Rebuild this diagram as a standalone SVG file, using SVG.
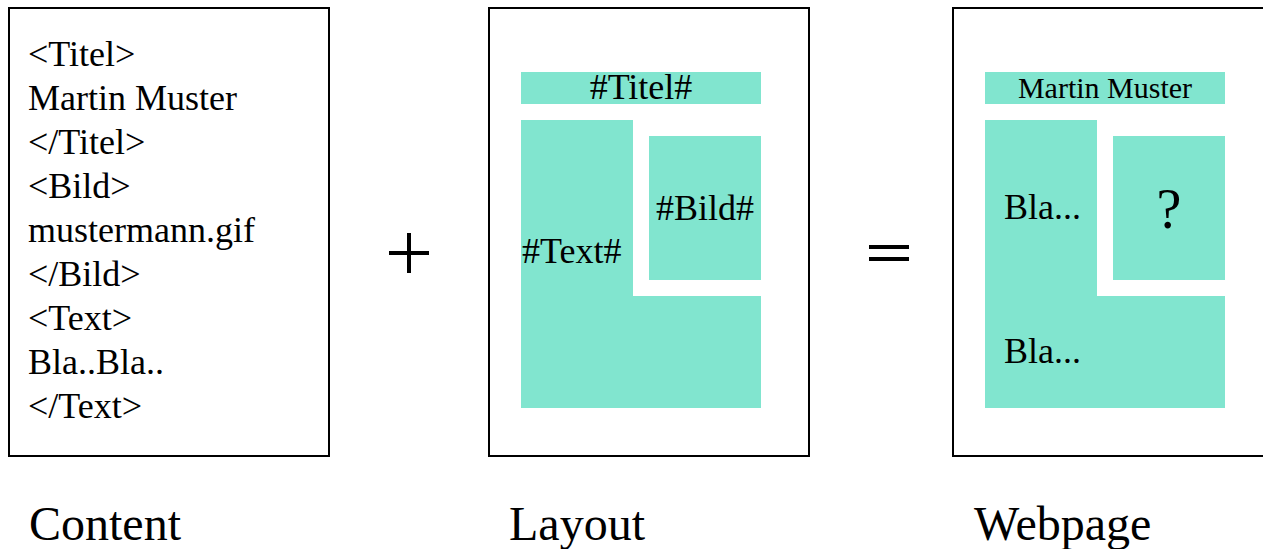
<svg xmlns="http://www.w3.org/2000/svg" width="1263" height="549" viewBox="0 0 1263 549">
<style>
.frame{fill:#fff;stroke:#000;stroke-width:2}
.area{fill:#81E5CF}
.t{font-family:"Liberation Serif","Times New Roman",serif;font-size:36px;fill:#000}
.lbl{font-family:"Liberation Serif","Times New Roman",serif;font-size:48px;fill:#000}
.op{stroke:#000;stroke-width:4}
</style>
<rect width="1263" height="549" fill="#fff"/>
<g id="content">
<rect class="frame" x="9" y="8" width="320" height="448"/>
<text class="t" x="28" y="66">&lt;Titel&gt;</text>
<text class="t" x="28" y="110">Martin Muster</text>
<text class="t" x="28" y="154">&lt;/Titel&gt;</text>
<text class="t" x="28" y="198">&lt;Bild&gt;</text>
<text class="t" x="28" y="242">mustermann.gif</text>
<text class="t" x="28" y="286">&lt;/Bild&gt;</text>
<text class="t" x="28" y="330">&lt;Text&gt;</text>
<text class="t" x="28" y="374">Bla..Bla..</text>
<text class="t" x="28" y="418">&lt;/Text&gt;</text>
</g>
<g id="plus">
<line class="op" x1="389" y1="253" x2="429" y2="253"/>
<line class="op" x1="409" y1="233" x2="409" y2="273"/>
</g>
<g id="layout">
<rect class="frame" x="489" y="8" width="320" height="448"/>
<rect class="area" x="521" y="72" width="240" height="32"/>
<path class="area" d="M521 120H633V296H761V408H521Z"/>
<rect class="area" x="649" y="136" width="112" height="144"/>
<text class="t" x="641" y="99" text-anchor="middle">#Titel#</text>
<text class="t" x="522" y="263">#Text#</text>
<text class="t" x="705" y="220" text-anchor="middle">#Bild#</text>
</g>
<g id="equals">
<line class="op" x1="869" y1="247" x2="909" y2="247"/>
<line class="op" x1="869" y1="259" x2="909" y2="259"/>
</g>
<g id="webpage">
<rect class="frame" x="953" y="8" width="320" height="448"/>
<rect class="area" x="985" y="72" width="240" height="32"/>
<path class="area" d="M985 120H1097V296H1225V408H985Z"/>
<rect class="area" x="1113" y="136" width="112" height="144"/>
<text class="t" x="1105" y="98" text-anchor="middle" style="font-size:30px">Martin Muster</text>
<text class="t" x="1004" y="219">Bla...</text>
<text class="t" x="1004" y="363">Bla...</text>
<text class="t" x="1169" y="228" text-anchor="middle" style="font-size:56px">?</text>
</g>
<g id="labels">
<text class="lbl" x="29" y="540">Content</text>
<text class="lbl" x="509" y="540">Layout</text>
<text class="lbl" x="974" y="540">Webpage</text>
</g>
<g id="connectors"></g>
</svg>
